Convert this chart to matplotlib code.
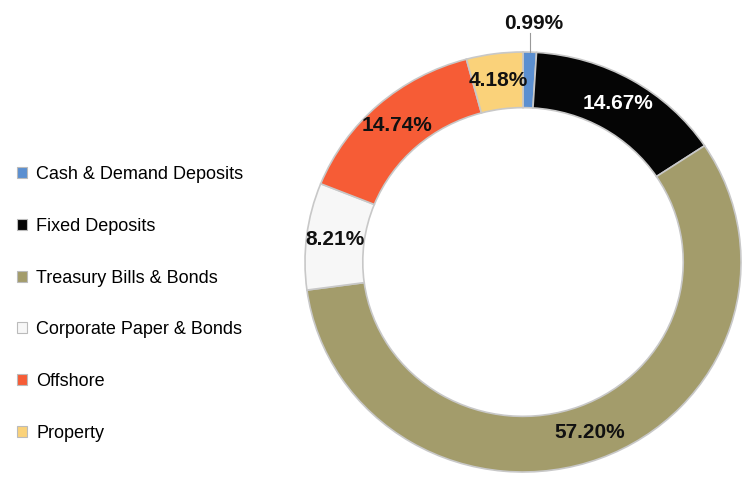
import matplotlib
matplotlib.use("Agg")
import matplotlib.pyplot as plt
import numpy as np

categories = ["Cash & Demand Deposits", "Fixed Deposits", "Treasury Bills & Bonds",
              "Corporate Paper & Bonds", "Offshore", "Property"]
values = [0.99, 14.67, 57.20, 8.21, 14.74, 4.18]
labels = ["0.99%", "14.67%", "57.20%", "8.21%", "14.74%", "4.18%"]
colors = ["#5B8FD0", "#050505", "#A39C6B", "#F7F7F7", "#F65C36", "#FAD27A"]
label_colors = ["#111111", "#FFFFFF", "#111111", "#111111", "#111111", "#111111"]

plt.rcParams['font.family'] = ['Liberation Sans', 'DejaVu Sans']

W, H = 744, 480
fig = plt.figure(figsize=(W / 100, H / 100), dpi=100)

cx, cy, rx, ry = 523, 262, 218, 210
ax = fig.add_axes([(cx - rx) / W, (H - cy - ry) / H, 2 * rx / W, 2 * ry / H])
wedges, _ = ax.pie(values, colors=colors, startangle=90, counterclock=False,
                   radius=1.0,
                   wedgeprops=dict(width=0.265, edgecolor="#C8C8C8", linewidth=1.2))
ax.set_aspect('auto')
ax.set_xlim(-1, 1)
ax.set_ylim(-1, 1)
ax.axis('off')

total = sum(values)
cum = 0.0
for i, (v, lab) in enumerate(zip(values, labels)):
    mid = cum + v / 2
    cum += v
    ang = np.deg2rad(90 - 360 * mid / total)
    if i == 0:
        x0, y0 = np.cos(ang) * 1.0, np.sin(ang) * 1.0
        ax.plot([x0, x0], [y0, 1.09], color="#999999", lw=0.8, clip_on=False)
        ax.text(x0 + 0.02, 1.135, lab, ha='center', va='center', fontsize=15,
                fontweight='bold', color=label_colors[i], clip_on=False)
    else:
        r_lab = 0.87
        ax.text(np.cos(ang) * r_lab, np.sin(ang) * r_lab, lab, ha='center', va='center',
                fontsize=15, fontweight='bold', color=label_colors[i])

leg = fig.legend(wedges, categories, loc='upper left',
                 bbox_to_anchor=(1 / W, 1 - 150 / H), frameon=False,
                 fontsize=13, handlelength=0.55, handleheight=0.55,
                 handletextpad=0.5, labelspacing=1.92)
for h in leg.legend_handles:
    h.set_edgecolor("#BBBBBB")
    h.set_linewidth(0.8)

fig.savefig("out.png", dpi=100, facecolor="white")
